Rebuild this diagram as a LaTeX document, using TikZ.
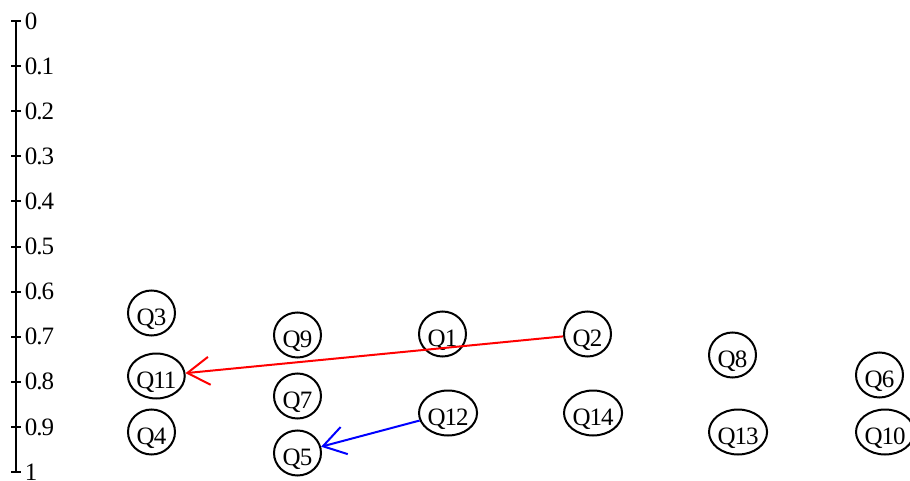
\documentclass[tikz,border=0pt]{standalone}
\usepackage{fontspec}
\setmainfont[LetterSpace=-4]{Liberation Serif}
\usetikzlibrary{shapes.geometric,arrows.meta}
\begin{document}
\begin{tikzpicture}[x=0.5pt,y=-0.5pt,declare function={ty(\v)=21+451*\v;},
qnode/.style={draw,ellipse,line width=1pt,inner sep=0pt,minimum width=23.5pt,minimum height=22.5pt,anchor=west,text height=12pt,text depth=0pt,font=\fontsize{12.5}{13}\selectfont},
tlabel/.style={anchor=west,inner sep=1.5pt,font=\fontsize{12.5}{13}\selectfont},
barb/.style={-{Straight Barb[length=11pt,width=14pt]},line width=1pt}]
\useasboundingbox (0,0) rectangle (910,481);
% axis with ticks
\draw[line width=1pt](16,{ty(0)})--(16,{ty(1)});
\draw[line width=1pt](11,{ty(0)})--(21,{ty(0)})node[tlabel]{0};
\draw[line width=1pt](11,{ty(0.1)})--(21,{ty(0.1)})node[tlabel]{0.1};
\draw[line width=1pt](11,{ty(0.2)})--(21,{ty(0.2)})node[tlabel]{0.2};
\draw[line width=1pt](11,{ty(0.3)})--(21,{ty(0.3)})node[tlabel]{0.3};
\draw[line width=1pt](11,{ty(0.4)})--(21,{ty(0.4)})node[tlabel]{0.4};
\draw[line width=1pt](11,{ty(0.5)})--(21,{ty(0.5)})node[tlabel]{0.5};
\draw[line width=1pt](11,{ty(0.6)})--(21,{ty(0.6)})node[tlabel]{0.6};
\draw[line width=1pt](11,{ty(0.7)})--(21,{ty(0.7)})node[tlabel]{0.7};
\draw[line width=1pt](11,{ty(0.8)})--(21,{ty(0.8)})node[tlabel]{0.8};
\draw[line width=1pt](11,{ty(0.9)})--(21,{ty(0.9)})node[tlabel]{0.9};
\draw[line width=1pt](11,{ty(1)})--(21,{ty(1)})node[tlabel]{1};
% questions
\node[qnode](Q3) at (127,313){Q3};
\node[qnode](Q11) at (127,376){Q11};
\node[qnode](Q4) at (127,432){Q4};
\node[qnode](Q9) at (273,335){Q9};
\node[qnode](Q7) at (273,396){Q7};
\node[qnode](Q5) at (273,453){Q5};
\node[qnode](Q1) at (418,334){Q1};
\node[qnode](Q12) at (418,413){Q12};
\node[qnode](Q2) at (563,334){Q2};
\node[qnode](Q14) at (563,413){Q14};
\node[qnode](Q8) at (708,355){Q8};
\node[qnode](Q13) at (708,432){Q13};
\node[qnode](Q6) at (855,375){Q6};
\node[qnode](Q10) at (855,432){Q10};
% links
\draw[barb,red](Q2)--(Q11);
\draw[barb,blue](Q12)--(Q5);
\end{tikzpicture}
\end{document}
